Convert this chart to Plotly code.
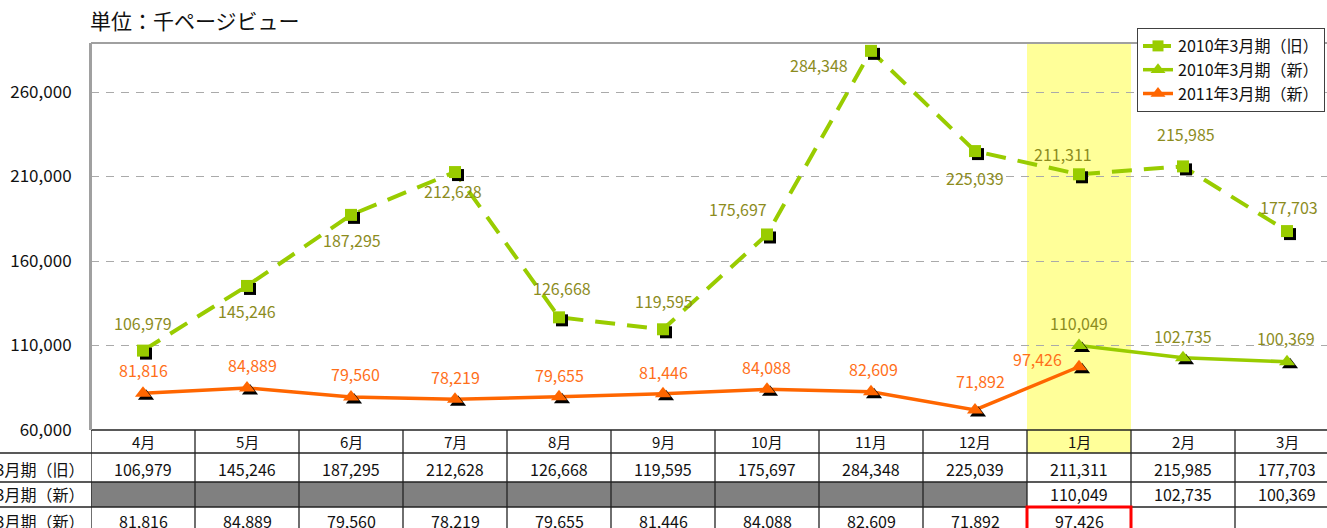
import numpy as np
import plotly.graph_objects as go

# ---------------- data ----------------
months = ["4月", "5月", "6月", "7月", "8月", "9月", "10月", "11月", "12月", "1月", "2月", "3月"]
series_names = ["2010年3月期（旧）", "2010年3月期（新）", "2011年3月期（新）"]
old_2010 = [106979, 145246, 187295, 212628, 126668, 119595, 175697, 284348, 225039, 211311, 215985, 177703]
new_2010 = [None, None, None, None, None, None, None, None, None, 110049, 102735, 100369]
new_2011 = [81816, 84889, 79560, 78219, 79655, 81446, 84088, 82609, 71892, 97426, None, None]
y_ticks = [60000, 110000, 160000, 210000, 260000]
unit_title = "単位：千ページビュー"

# ---------------- styles ----------------
W, H = 1327, 528
ML, MT, MB, MR = 91, 43, 98, 0
PW, PH = W - ML - MR, H - MT - MB
COL_PX = 104
YMIN, YMAX = 60000, 289000
XMIN = -0.5
XMAX = XMIN + PW / COL_PX
GREEN = "#99CC00"
ORANGE = "#FF6600"
OLIVE_TXT = "#8C8C1E"
ORANGE_TXT = "#FF6F1A"
FONT = "Noto Sans CJK JP"
hilite = 9  # highlighted month index (1月)

px_y = (YMAX - YMIN) / PH
px_x = (XMAX - XMIN) / PW


def py2paper(py):
    return (H - MB - py) / PH


def px2paper(px):
    return (px - ML) / PW


def fmt(v):
    return f"{v:,}"


x = np.arange(len(months))

# label offsets (pixels): (xshift, yshift)
old_shift = [(0, 28), (0, -25), (1, -25), (-2, -19), (3, 29), (1, 28), (-29, 25), (-52, -14), (0, -27), (-16, 20), (3, 32), (2, 24)]
new10_shift = {9: (0, 22), 10: (0, 22), 11: (-1, 24)}
new11_shift = [(0, 23), (5, 23), (4, 23), (0, 22), (0, 22), (0, 22), (-1, 22), (2, 23), (5, 29), (-42, 8)]

fig = go.Figure()


def add_series(vals, name, color, symbol, msize, dash, width):
    xs = [xi for xi, v in zip(x, vals) if v is not None]
    ys = [v for v in vals if v is not None]
    fig.add_trace(go.Scatter(x=xs, y=ys, mode="lines", line=dict(color=color, width=width, dash=dash),
                             showlegend=False, hoverinfo="skip"))
    fig.add_trace(go.Scatter(x=np.array(xs) + 3 * px_x, y=np.array(ys) - 3 * px_y, mode="markers",
                             marker=dict(symbol=symbol, size=msize, color="black"),
                             showlegend=False, hoverinfo="skip"))
    fig.add_trace(go.Scatter(x=xs, y=ys, mode="markers",
                             marker=dict(symbol=symbol, size=msize, color=color),
                             showlegend=False, name=name))


add_series(old_2010, series_names[0], GREEN, "square", 12, "20px,12px", 4)
add_series(new_2010, series_names[1], GREEN, "triangle-up", 14, "solid", 3.5)
add_series(new_2011, series_names[2], ORANGE, "triangle-up", 14, "solid", 3.5)

# legend-only traces
fig.add_trace(go.Scatter(x=[None], y=[None], mode="lines+markers", name=series_names[0],
                         line=dict(color=GREEN, width=4, dash="10px,8px"), marker=dict(symbol="square", size=11, color=GREEN)))
fig.add_trace(go.Scatter(x=[None], y=[None], mode="lines+markers", name=series_names[1],
                         line=dict(color=GREEN, width=3.5), marker=dict(symbol="triangle-up", size=13, color=GREEN)))
fig.add_trace(go.Scatter(x=[None], y=[None], mode="lines+markers", name=series_names[2],
                         line=dict(color=ORANGE, width=3.5), marker=dict(symbol="triangle-up", size=13, color=ORANGE)))

annotations = []
shapes = []

# data labels
for i, v in enumerate(old_2010):
    sx, sy = old_shift[i]
    annotations.append(dict(x=x[i], y=v, xref="x", yref="y", text=fmt(v), showarrow=False,
                            xshift=sx, yshift=sy, font=dict(family=FONT, size=16, color=OLIVE_TXT)))
for i, v in enumerate(new_2010):
    if v is None:
        continue
    sx, sy = new10_shift[i]
    annotations.append(dict(x=x[i], y=v, xref="x", yref="y", text=fmt(v), showarrow=False,
                            xshift=sx, yshift=sy, font=dict(family=FONT, size=16, color=OLIVE_TXT)))
for i, v in enumerate(new_2011):
    if v is None:
        continue
    sx, sy = new11_shift[i]
    annotations.append(dict(x=x[i], y=v, xref="x", yref="y", text=fmt(v), showarrow=False,
                            xshift=sx, yshift=sy, font=dict(family=FONT, size=16, color=ORANGE_TXT)))

# title
annotations.append(dict(x=px2paper(88), y=py2paper(20), xref="paper", yref="paper", text=unit_title,
                        showarrow=False, xanchor="left", yanchor="middle",
                        font=dict(family=FONT, size=21, color="#111111")))

# ---------------- table ----------------
row_edges_px = [430, 453, 482, 507, 560]
row_text_px = [441, 469, 494, 521]
rows = [old_2010, new_2010, new_2011]

# highlight band
shapes.append(dict(type="rect", xref="x", yref="paper", x0=hilite - 0.5, x1=hilite + 0.5,
                   y0=py2paper(row_edges_px[1]), y1=1, fillcolor="#FFFF99", line=dict(width=0), layer="below"))
# grey cells for missing 2010 (new) values
for i, v in enumerate(new_2010):
    if v is None:
        shapes.append(dict(type="rect", xref="x", yref="paper", x0=i - 0.5, x1=i + 0.5,
                           y0=py2paper(row_edges_px[3]), y1=py2paper(row_edges_px[2]),
                           fillcolor="#808080", line=dict(width=0), layer="below"))

# horizontal lines
shapes.append(dict(type="line", xref="paper", yref="paper", x0=0, x1=1, y0=py2paper(row_edges_px[0]),
                   y1=py2paper(row_edges_px[0]), line=dict(color="#222222", width=1.3)))
for py in row_edges_px[1:4]:
    shapes.append(dict(type="line", xref="paper", yref="paper", x0=px2paper(0), x1=1, y0=py2paper(py),
                       y1=py2paper(py), line=dict(color="#222222", width=1.3)))
# vertical lines
for k in range(len(months) + 1):
    shapes.append(dict(type="line", xref="x", yref="paper", x0=k - 0.5, x1=k - 0.5,
                       y0=py2paper(row_edges_px[0]), y1=py2paper(row_edges_px[-1]),
                       line=dict(color="#222222", width=1.3)))
# axis line continuing
shapes.append(dict(type="line", xref="paper", yref="paper", x0=0, x1=0, y0=py2paper(row_edges_px[0]), y1=1,
                   line=dict(color="#A0A0A0", width=2)))
# top border
shapes.append(dict(type="line", xref="paper", yref="paper", x0=0, x1=1, y0=1, y1=1,
                   line=dict(color="#A0A0A0", width=2)))

# red box around latest value
shapes.append(dict(type="rect", xref="x", yref="paper", x0=hilite - 0.5, x1=hilite + 0.5,
                   y0=py2paper(row_edges_px[-1]), y1=py2paper(row_edges_px[3]),
                   fillcolor="rgba(0,0,0,0)", line=dict(color="#FF0000", width=3)))

# header text
for i, m in enumerate(months):
    annotations.append(dict(x=x[i], y=py2paper(row_text_px[0]), xref="x", yref="paper", text=m,
                            showarrow=False, yanchor="middle", font=dict(family=FONT, size=15, color="#111111")))
# row text
for r, vals in enumerate(rows):
    annotations.append(dict(x=px2paper(86), y=py2paper(row_text_px[r + 1]), xref="paper", yref="paper",
                            text=series_names[r], showarrow=False, xanchor="right", yanchor="middle",
                            font=dict(family=FONT, size=16, color="#111111")))
    for i, v in enumerate(vals):
        if v is None:
            continue
        annotations.append(dict(x=x[i], y=py2paper(row_text_px[r + 1]), xref="x", yref="paper", text=fmt(v),
                                showarrow=False, yanchor="middle", font=dict(family=FONT, size=16, color="#111111")))

fig.update_layout(
    width=W, height=H,
    margin=dict(l=ML, r=MR, t=MT, b=MB, pad=0),
    paper_bgcolor="white", plot_bgcolor="rgba(0,0,0,0)",
    font=dict(family=FONT, color="#111111"),
    showlegend=True,
    legend=dict(x=px2paper(1325), y=py2paper(28), xanchor="right", yanchor="top",
                bgcolor="white", bordercolor="#404040", borderwidth=1,
                font=dict(family=FONT, size=16, color="#111111"), tracegroupgap=0, itemwidth=30),
    xaxis=dict(range=[XMIN, XMAX], showgrid=False, zeroline=False, showticklabels=False, showline=False, fixedrange=True),
    yaxis=dict(range=[YMIN, YMAX], tickvals=y_ticks, ticktext=[fmt(t) for t in y_ticks],
               showgrid=True, gridcolor="#AAAAAA", griddash="8px,7px", gridwidth=1.2,
               zeroline=False, showline=True, linecolor="#A0A0A0", linewidth=2,
               ticks="", ticklabelstandoff=14, tickfont=dict(family=FONT, size=17, color="#111111")),
    shapes=shapes,
    annotations=annotations,
)

fig.write_html("out.html")
